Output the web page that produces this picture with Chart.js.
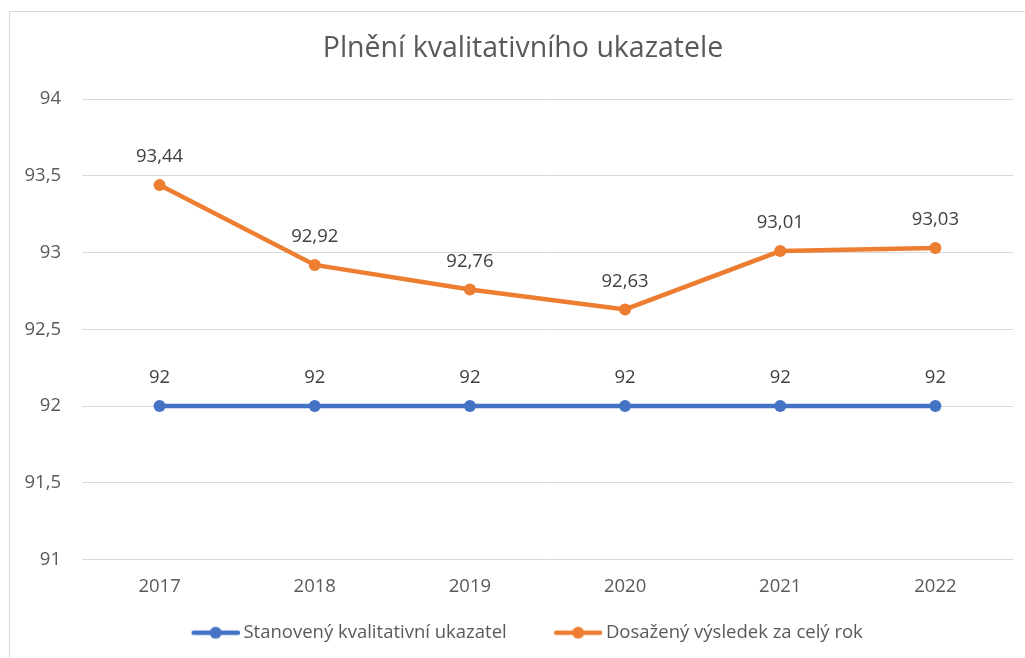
<!DOCTYPE html>
<html>
<head>
<meta charset="utf-8">
<script src="https://cdn.jsdelivr.net/npm/chart.js@4/dist/chart.umd.min.js"></script>
<style>
  html, body { margin: 0; padding: 0; background: #fff; overflow: hidden; }
  #frame { position: absolute; left: 9px; top: 11px; width: 1040px; height: 700px; border: 1px solid #d9d9d9; box-sizing: border-box; }
  #wrap { position: absolute; left: 0; top: 0; width: 1025px; height: 658px; }
</style>
</head>
<body>
<div id="frame"></div>
<div id="wrap"><canvas id="c" width="1025" height="658"></canvas></div>
<script>
const chartTitle = 'Plnění kvalitativního ukazatele';
const years = ['2017', '2018', '2019', '2020', '2021', '2022'];
const targetLabel = 'Stanovený kvalitativní ukazatel';
const targetValues = [92, 92, 92, 92, 92, 92];
const actualLabel = 'Dosažený výsledek za celý rok';
const actualValues = [93.44, 92.92, 92.76, 92.63, 93.01, 93.03];
const yMin = 91, yMax = 94, yStep = 0.5;

const BLUE = '#4472C4', ORANGE = '#ED7D31';
const FONT = '"Open Sans", Lato, sans-serif';
const FS = 18.5;
const fmt = v => String(v).replace('.', ',');

function legendMarker(color) {
  const c = document.createElement('canvas');
  c.width = 91; c.height = 16;
  const g = c.getContext('2d');
  g.strokeStyle = color; g.lineWidth = 4.5; g.lineCap = 'round';
  g.beginPath(); g.moveTo(91 - 46, 8); g.lineTo(89, 8); g.stroke();
  g.fillStyle = color;
  g.beginPath(); g.arc(91 - 24, 8, 6, 0, Math.PI * 2); g.fill();
  return c;
}
const markers = [legendMarker(BLUE), legendMarker(ORANGE)];

const dataLabels = {
  id: 'dataLabels',
  afterDatasetsDraw(chart) {
    const ctx = chart.ctx;
    ctx.save();
    ctx.font = FS + 'px ' + FONT;
    ctx.fillStyle = '#404040';
    ctx.textAlign = 'center';
    ctx.textBaseline = 'middle';
    chart.data.datasets.forEach((ds, i) => {
      const meta = chart.getDatasetMeta(i);
      meta.data.forEach((pt, j) => {
        ctx.fillText(fmt(ds.data[j]), pt.x, pt.y - 28);
      });
    });
    ctx.restore();
  }
};

const boxShift = {
  id: 'boxShift',
  afterLayout(chart) {
    if (chart.titleBlock) { chart.titleBlock.left += 16.5; chart.titleBlock.right += 16.5; }
    if (chart.legend) { chart.legend.left += 2; chart.legend.right += 2; }
  }
};

new Chart(document.getElementById('c'), {
  type: 'line',
  data: {
    labels: years,
    datasets: [
      { label: targetLabel, data: targetValues, borderColor: BLUE, backgroundColor: BLUE,
        borderWidth: 4.5, pointRadius: 6, pointBorderWidth: 0, pointBackgroundColor: BLUE, tension: 0 },
      { label: actualLabel, data: actualValues, borderColor: ORANGE, backgroundColor: ORANGE,
        borderWidth: 4.5, pointRadius: 6, pointBorderWidth: 0, pointBackgroundColor: ORANGE, tension: 0 }
    ]
  },
  options: {
    responsive: false,
    animation: false,
    layout: { padding: { left: 0, right: 12, top: 0, bottom: 6 } },
    plugins: {
      title: {
        display: true, text: chartTitle, color: '#595959',
        font: { family: FONT, size: 28.5, weight: 'normal' },
        padding: { top: 32, bottom: 33 }
      },
      legend: {
        position: 'bottom',
        labels: {
          color: '#595959',
          font: { family: FONT, size: FS },
          usePointStyle: true,
          pointStyleWidth: 80,
          padding: 10,
          generateLabels(chart) {
            return chart.data.datasets.map((ds, i) => ({
              text: ds.label, pointStyle: markers[i], fillStyle: ds.borderColor,
              strokeStyle: ds.borderColor, lineWidth: 0, hidden: false, datasetIndex: i, fontColor: '#595959'
            }));
          }
        }
      },
      tooltip: { enabled: false }
    },
    scales: {
      x: {
        offset: true,
        grid: { display: false, drawTicks: false, offset: true },
        border: { display: false },
        ticks: { color: '#595959', font: { family: FONT, size: FS }, padding: 16 },
        afterFit(s) { s.height = 54; }
      },
      y: {
        min: yMin, max: yMax,
        grid: { color: '#d9d9d9', lineWidth: 1, drawTicks: false },
        border: { display: false },
        ticks: { stepSize: yStep, color: '#595959', font: { family: FONT, size: FS }, padding: 21,
          callback: v => fmt(v) },
        afterFit(s) { s.width = 82; }
      }
    }
  },
  plugins: [dataLabels, boxShift]
});
</script>
</body>
</html>
